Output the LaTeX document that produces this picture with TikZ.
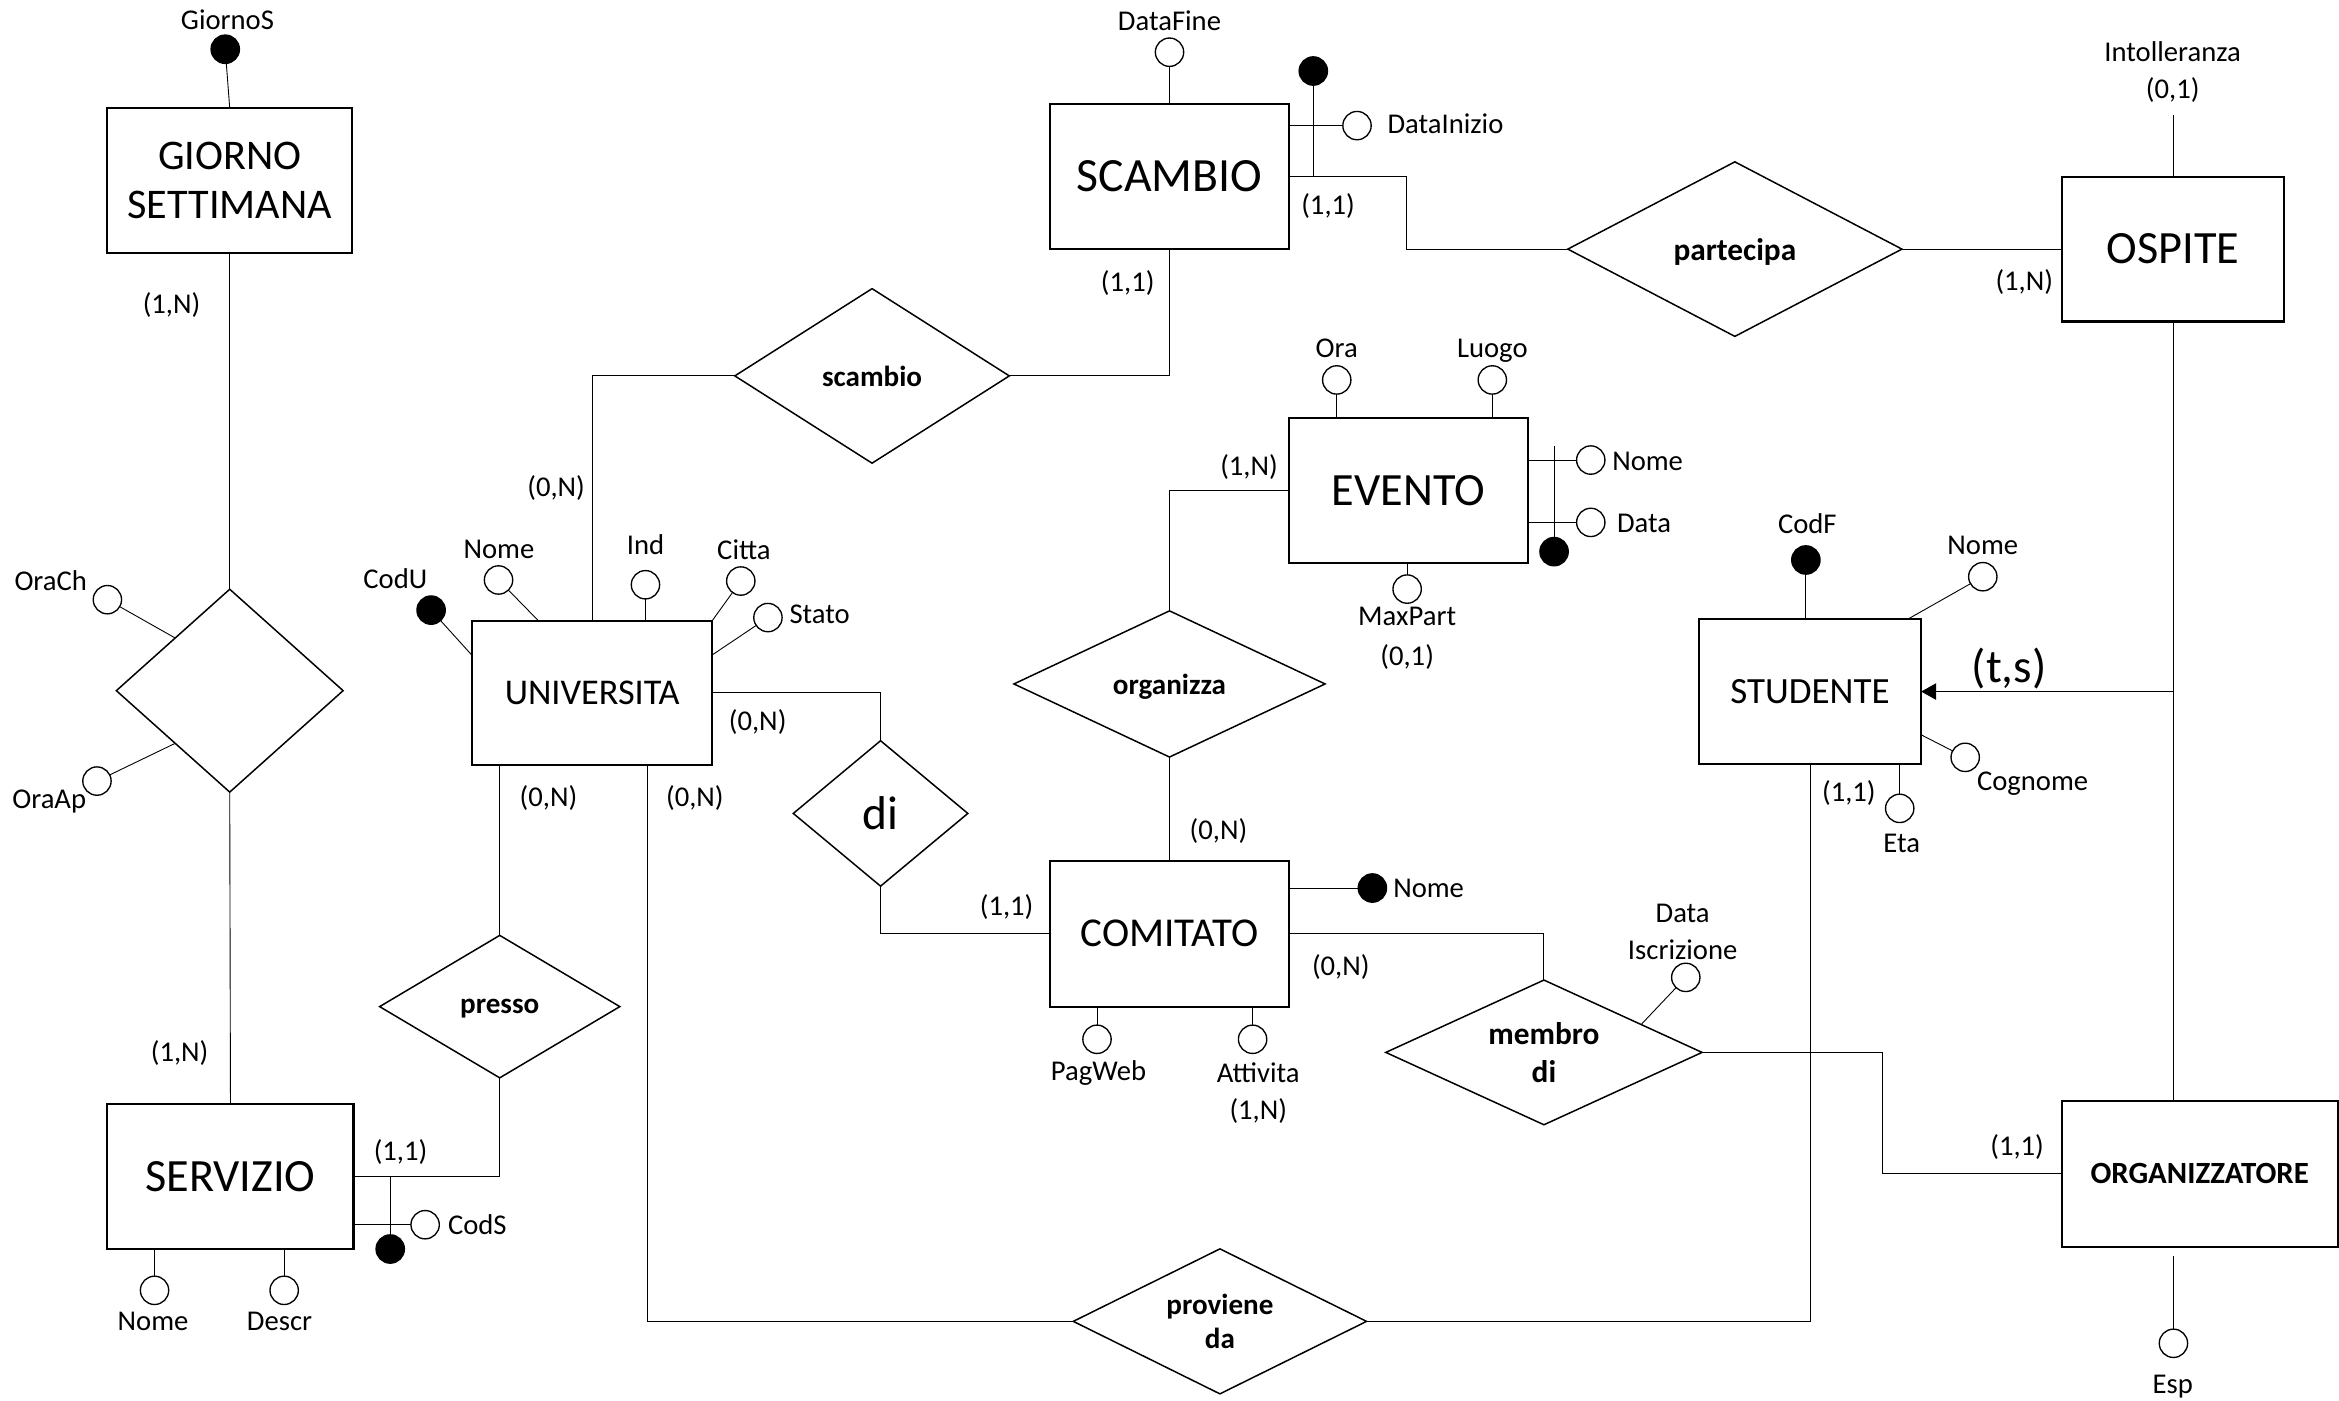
\documentclass[tikz,border=0pt]{standalone}
\usepackage{fontspec}
\setmainfont{Carlito}
\usetikzlibrary{arrows.meta, shapes.geometric}
\def\boxW{160}
\def\boxH{97}
\def\attrSize{19}

\begin{document}
\begin{tikzpicture}[
    x=1pt, y=-1pt,
    line width=0.6pt,
    >={Triangle[length=10pt,width=11pt]},
    entity/.style={draw, line width=1.4pt, inner sep=0pt, outer sep=0pt,
        minimum width=\boxW, minimum height=\boxH, align=center},
    rel/.style={diamond, draw, line width=1pt, inner sep=0pt, outer sep=0pt,
        aspect=2, align=center, text depth=0pt,
        font=\bfseries\fontsize{19.5}{23}\selectfont},
    attr/.style={circle, draw, line width=0.9pt, fill=white,
        minimum size=\attrSize, inner sep=0pt, outer sep=0pt},
    key/.style={attr, fill=black},
    lbl/.style={inner sep=0pt, align=center, font=\fontsize{19.2}{23}\selectfont},
    card/.style={lbl}
]
\useasboundingbox (0,0) rectangle (1568,939);

% entities
\node[entity, minimum width=164, font=\fontsize{28.3}{33}\selectfont] (giorno) at (154,121) {GIORNO\\SETTIMANA};
\node[entity, font=\fontsize{32}{38}\selectfont] (scambio) at (784,118.4) {SCAMBIO};
\node[entity, minimum width=149, font=\fontsize{31}{37}\selectfont] (ospite) at (1456.8,167) {OSPITE};
\node[entity, font=\fontsize{31}{37}\selectfont] (evento) at (944.2,329) {EVENTO};
\node[entity, minimum width=161, font=\fontsize{24.3}{29}\selectfont] (uni) at (397,464.5) {UNIVERSITA};
\node[entity, minimum width=149, font=\fontsize{24.8}{30}\selectfont] (studente) at (1213.4,463.6) {STUDENTE};
\node[entity, minimum height=98, font=\fontsize{27.5}{33}\selectfont] (comitato) at (784,626) {COMITATO};
\node[entity, minimum width=165, font=\fontsize{31}{37}\selectfont] (servizio) at (154.5,788.5) {SERVIZIO};
\node[entity, minimum width=185, minimum height=98, font=\bfseries\fontsize{20.7}{25}\selectfont] (organizzatore) at (1474.6,786.8) {ORGANIZZATORE};

% relationships
\node[rel, minimum width=152, minimum height=136] (orario) at (154,463) {};
\node[rel, minimum width=184, minimum height=117] (scambioRel) at (584.6,252) {scambio};
\node[rel, minimum width=224, minimum height=117, font=\bfseries\fontsize{21}{25}\selectfont] (partecipa) at (1163,167) {partecipa};
\node[rel, minimum width=208.6, minimum height=98] (organizza) at (784,458.5) {organizza};
\node[rel, minimum width=117, minimum height=97.5, font=\fontsize{31.8}{38}\selectfont] (di) at (590.3,545.3) {di};
\node[rel, minimum width=161, minimum height=95.5] (presso) at (335,674.8) {presso};
\node[rel, minimum width=212, minimum height=97, font=\bfseries\fontsize{21}{25.5}\selectfont] (membro) at (1035,705.5) {membro\\di};
\node[rel, minimum width=196.6, minimum height=97.2] (proviene) at (817.8,885.8) {proviene\\da};

% attributes of GIORNO SETTIMANA and the unnamed relationship
\node[key] (giornoS) at (151,33) {};
\node[lbl] (giornoSLbl) at (152.5,13.5) {GiornoS};
\node[attr] (orach) at (72,402) {};
\node[lbl] (orachLbl) at (34,389) {OraCh};
\node[attr] (oraap) at (65,523.6) {};
\node[lbl] (oraapLbl) at (33,537.6) {OraAp};
\draw (giornoS) -- (giorno.north);
\draw (orach) -- (orario.136);
\draw (oraap) -- (orario.224);

% SERVIZIO
\node[attr] (servNome) at (103.6,865) {};
\node[lbl] (servNomeLbl) at (102.6,885.6) {Nome};
\node[attr] (descr) at (190.5,865) {};
\node[lbl] (descrLbl) at (187.4,885.6) {Descr};
\node[attr] (codS) at (285,821) {};
\node[lbl] (codSLbl) at (320,821) {CodS};
\node[key] (servKey) at (261.6,837.3) {};
\draw (servNome) -- (servNome |- servizio.south);
\draw (descr) -- (descr |- servizio.south);
\draw (codS) -- (codS -| servizio.east);
\draw (servKey) -- (servKey |- servizio.east);

% UNIVERSITA
\node[key] (codU) at (289,409) {};
\node[lbl] (codULbl) at (265,387.7) {CodU};
\node[attr] (uniNome) at (334.2,388.8) {};
\node[lbl] (uniNomeLbl) at (334.5,368.3) {Nome};
\node[attr] (ind) at (432.7,392) {};
\node[lbl] (indLbl) at (432.7,365.4) {Ind};
\node[attr] (citta) at (496.6,389.5) {};
\node[lbl] (cittaLbl) at (498.7,368.3) {Citta};
\node[attr] (stato) at (514.8,414) {};
\node[lbl] (statoLbl) at (549.5,412) {Stato};
\draw (codU) -- ([yshift=-23.4]uni.north west);
\draw (uniNome) -- ([xshift=44.3]uni.north west);
\draw (ind) -- (ind |- uni.north);
\draw (citta) -- (uni.north east);
\draw (stato) -- ([yshift=-23]uni.north east);

% SCAMBIO
\node[attr] (dataFine) at (784,35) {};
\node[lbl] (dataFineLbl) at (784,13.9) {DataFine};
\node[key] (scambioKey) at (880.4,47.6) {};
\node[attr] (dataInizio) at (909.7,84.2) {};
\node[lbl] (dataInizioLbl) at (969,82.7) {DataInizio};
\draw (dataFine) -- (scambio.north);
\draw (dataInizio) -- (dataInizio -| scambio.east);
\draw (scambioKey) -- (scambioKey |- scambio.east);

% OSPITE
\coordinate (intollEnd) at (1456.8,77);
\node[lbl] (intollLbl) at (1456.5,34.6) {Intolleranza};
\node[card] (intollCard) at (1456.5,60.3) {(0,1)};
\draw (intollEnd) -- (ospite.north);

% EVENTO
\node[attr] (ora) at (896.1,254.7) {};
\node[lbl] (oraLbl) at (896.1,233.5) {Ora};
\node[attr] (luogo) at (1000.4,254.7) {};
\node[lbl] (luogoLbl) at (1000.4,235) {Luogo};
\node[attr] (maxPart) at (943.3,394.9) {};
\node[lbl] (maxPartLbl) at (943.3,413.4) {MaxPart};
\node[card] (maxPartCard) at (943.3,440.2) {(0,1)};
\node[attr] (evNome) at (1066.4,308.4) {};
\node[lbl, anchor=west] (evNomeLbl) at (1080.5,309.5) {Nome};
\node[attr] (evData) at (1066.4,350.2) {};
\node[lbl, anchor=west] (evDataLbl) at (1083.7,350.8) {Data};
\node[key] (eventoKey) at (1041.8,369.8) {};
\draw (ora) -- (ora |- evento.north);
\draw (luogo) -- (luogo |- evento.north);
\draw (maxPart) -- (maxPart |- evento.south);
\draw (evNome) -- (evNome -| evento.east);
\draw (evData) -- (evData -| evento.east);
\draw (eventoKey) -- ([yshift=9.6]eventoKey |- evNome);

% STUDENTE
\node[key] (codF) at (1210.6,375.4) {};
\node[lbl] (codFLbl) at (1211.6,350.8) {CodF};
\node[attr] (studNome) at (1329.2,386.6) {};
\node[lbl] (studNomeLbl) at (1329.2,365.8) {Nome};
\node[attr] (cognome) at (1317.4,507.7) {};
\node[lbl] (cognomeLbl) at (1362.6,525.1) {Cognome};
\node[attr] (eta) at (1273.5,541.9) {};
\node[lbl] (etaLbl) at (1274.8,565.4) {Eta};
\draw (codF) -- (codF |- studente.north);
\draw (studNome) -- ([xshift=-9]studente.north east);
\draw (cognome) -- ([yshift=-29]studente.east);
\draw (eta) -- (eta |- studente.south);

% COMITATO
\node[key] (comNome) at (920,595.3) {};
\node[lbl] (comNomeLbl) at (957.7,595.8) {Nome};
\node[attr] (pagWeb) at (735.4,696.7) {};
\node[lbl] (pagWebLbl) at (736.4,719) {PagWeb};
\node[attr] (attivita) at (839.7,696.7) {};
\node[lbl] (attivitaLbl) at (843.5,719) {Attivita};
\node[card] (attivitaCard) at (843.5,744.6) {(1,N)};
\draw (comNome) -- (comNome -| comitato.east);
\draw (pagWeb) -- (pagWeb |- comitato.south);
\draw (attivita) -- (attivita |- comitato.south);

% membro di
\node[attr] (dataIscr) at (1130.1,655.2) {};
\node[lbl, font=\fontsize{19.2}{25}\selectfont] (dataIscrLbl) at (1128,624.8) {Data\\Iscrizione};
\draw (dataIscr) -- (membro.16);

% ORGANIZZATORE
\node[attr] (esp) at (1457,900.5) {};
\node[lbl] (espLbl) at (1456.5,929.6) {Esp};
\draw (esp) -- ([yshift=-6.2]esp |- organizzatore.south);

% connectors
\draw (giorno.south) -- (orario.north);
\draw (orario.south) -- (servizio.north);
\draw (servizio.east) -| (presso.south);
\draw (presso.north) -- (presso.north |- uni.south);
\draw (uni.north) |- (scambioRel.west);
\draw (scambioRel.east) -| (scambio.south);
\draw (scambio.east) -- ++(78.6,0) |- (partecipa.west);
\draw (partecipa.east) -- (ospite.west);
\draw (ospite.south) -- (ospite.south |- organizzatore.north);
\draw[->] (ospite.south |- studente.east) -- (studente.east);
\draw (uni.east) -| (di.north);
\draw (di.south) |- (comitato.west);
\draw (evento.west) -| (organizza.north);
\draw (organizza.south) -- (comitato.north);
\draw (comitato.east) -| (membro.north);
\draw (membro.east) -- ++(121,0) |- (organizzatore.west);
\draw ([xshift=36.7]uni.south) |- (proviene.west);
\draw (proviene.east) -| (studente.south);

% cardinalities
\node[card] (cGiorno) at (115,204.5) {(1,N)};
\node[card] (cServizio) at (120.4,706) {(1,N)};
\node[card] (cServPresso) at (268.5,772) {(1,1)};
\node[card] (cUniPresso) at (367.7,535.2) {(0,N)};
\node[card] (cUniProv) at (465.8,535.2) {(0,N)};
\node[card] (cUniDi) at (507.9,483.8) {(0,N)};
\node[card] (cUniScambio) at (372.8,327.4) {(0,N)};
\node[card] (cScambioRel) at (756,190) {(1,1)};
\node[card] (cScambioPart) at (890.3,137.9) {(1,1)};
\node[card] (cOspite) at (1357,188.8) {(1,N)};
\node[card] (cEvento) at (837.3,312.8) {(1,N)};
\node[card] (cComOrg) at (816.8,556.8) {(0,N)};
\node[card] (cComDi) at (674.8,608.2) {(1,1)};
\node[card] (cComMembro) at (898.8,648) {(0,N)};
\node[card] (cStudente) at (1239.4,531.8) {(1,1)};
\node[card] (cOrganizzatore) at (1352.2,768.7) {(1,1)};
\node[lbl, font=\fontsize{31.6}{38}\selectfont] (gen) at (1346.8,448) {(t,s)};
\end{tikzpicture}
\end{document}
